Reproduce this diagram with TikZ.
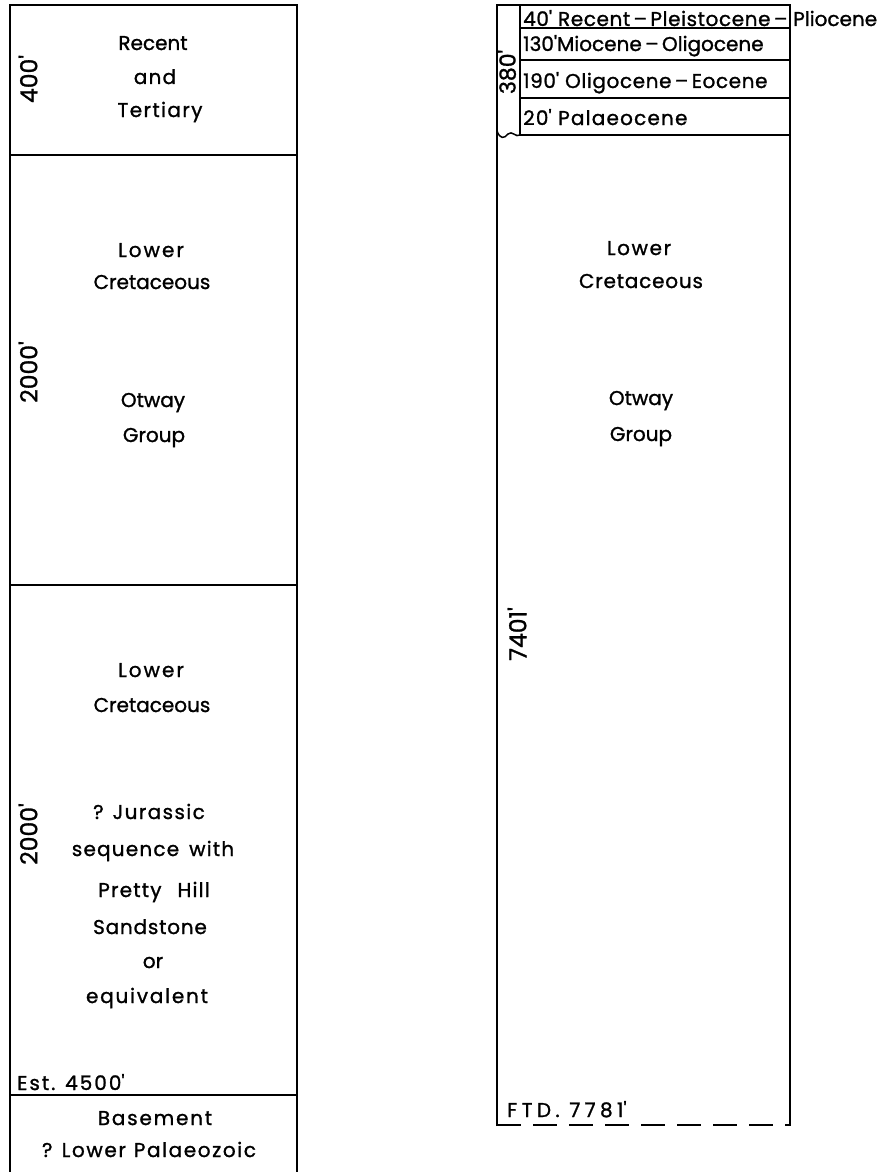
\documentclass[tikz,border=0pt]{standalone}
\usepackage{fontspec}
\setmainfont{Poppins}[FakeBold=1.2]
\newcommand{\ft}{\textquotesingle}
\newcommand{\lsp}[2]{{\addfontfeature{LetterSpace=#1}#2}}
\begin{document}
\begin{tikzpicture}[x=1pt,y=-1pt,
  colline/.style={line width=1.8pt},
  rowline/.style={line width=1.5pt},
  lbl/.style={font=\fontsize{20}{24}\selectfont, inner sep=0pt, anchor=base},
  rowlbl/.style={font=\fontsize{20}{24}\selectfont, inner sep=0pt, anchor=base west},
  thk/.style={font=\fontsize{23.5}{26}\selectfont, inner sep=0pt, rotate=90, anchor=center}]
\useasboundingbox (0,0) rectangle (882,1172);

% ---------- left column ----------
\draw[colline] (10,1172) -- (10,5) -- (297,5) -- (297,1172);
\draw[colline] (10,155) -- (297,155);
\draw[colline] (10,585) -- (297,585);
\draw[colline] (10,1095) -- (297,1095);

\node[lbl] (l1) at (153,50) {Recent};
\node[lbl] (l2) at (155,84) {\lsp{6}{and}};
\node[lbl] (l3) at (160,117) {\lsp{7}{Tertiary}};
\node[thk] (t1) at (28,79) {400\ft};

\node[lbl] (l4) at (151,257) {\lsp{10}{Lower}};
\node[lbl] (l5) at (152,289) {Cretaceous};
\node[lbl] (l6) at (153,407) {Otway};
\node[lbl] (l7) at (154,442) {Group};
\node[thk] (t2) at (28,372) {2000\ft};

\node[lbl] (l8) at (151,677) {\lsp{10}{Lower}};
\node[lbl] (l9) at (152,712) {Cretaceous};
\node[lbl] (l10) at (149,819) {\lsp{7}{? Jurassic}};
\node[lbl] (l11) at (153,856) {\lsp{6}{sequence\hspace{10pt}with}};
\node[lbl] (l12) at (154,897) {\lsp{6}{Pretty\hspace{16pt}Hill}};
\node[lbl] (l13) at (150,934) {\lsp{4}{Sandstone}};
\node[lbl] (l14) at (153,968) {or};
\node[lbl] (l15) at (147,1003) {\lsp{9}{equivalent}};
\node[thk] (t3) at (28,834) {2000\ft};
\node[lbl, anchor=base west] (est) at (17,1090) {\lsp{10}{Est. 4500\ft}};

\node[lbl] (b1) at (155,1125) {\lsp{9}{Basement}};
\node[lbl] (b2) at (149,1157) {\lsp{8}{? Lower\hspace{8pt}Palaeozoic}};

% ---------- right column ----------
\draw[colline] (497,1126) -- (497,5) -- (790,5) -- (790,1126);
\draw[rowline] (520,5) -- (520,135);
\draw[rowline] (520,28) -- (790,28);
\draw[rowline] (520,60) -- (790,60);
\draw[rowline] (520,98) -- (790,98);
\draw[rowline] (520,135) -- (790,135);
\draw[rowline] (497,131) .. controls (500,139) and (504,139) .. (508,134)
  .. controls (512,130) and (516,138) .. (520,135);
\draw[colline, dash pattern=on 24pt off 12pt] (497,1125) -- (790,1125);

\node[rowlbl] (r1) at (523,26) {\lsp{3}{40\ft\ Recent\,--\,Pleistocene\,--}};
\node[rowlbl] (r1b) at (793,26) {Pliocene};
\node[rowlbl] (r2) at (523,51) {130\ft Miocene\,--\,Oligocene};
\node[rowlbl] (r3) at (523,88) {\lsp{3}{190\ft\ Oligocene\,--\,Eocene}};
\node[rowlbl] (r4) at (523,125) {\lsp{6}{20\ft\ Palaeocene}};
\node[thk, font=\fontsize{22}{24}\selectfont] (t4) at (507,72) {380\ft};

\node[lbl] (m1) at (639,255) {\lsp{8}{Lower}};
\node[lbl] (m2) at (641,288) {\lsp{4}{Cretaceous}};
\node[lbl] (m3) at (641,405) {Otway};
\node[lbl] (m4) at (641,441) {Group};
\node[thk] (t5) at (517,634) {7401\ft};
\node[lbl, anchor=base west] (ftd) at (507,1117) {\lsp{22}{FTD. 7781\ft}};
\end{tikzpicture}
\end{document}
